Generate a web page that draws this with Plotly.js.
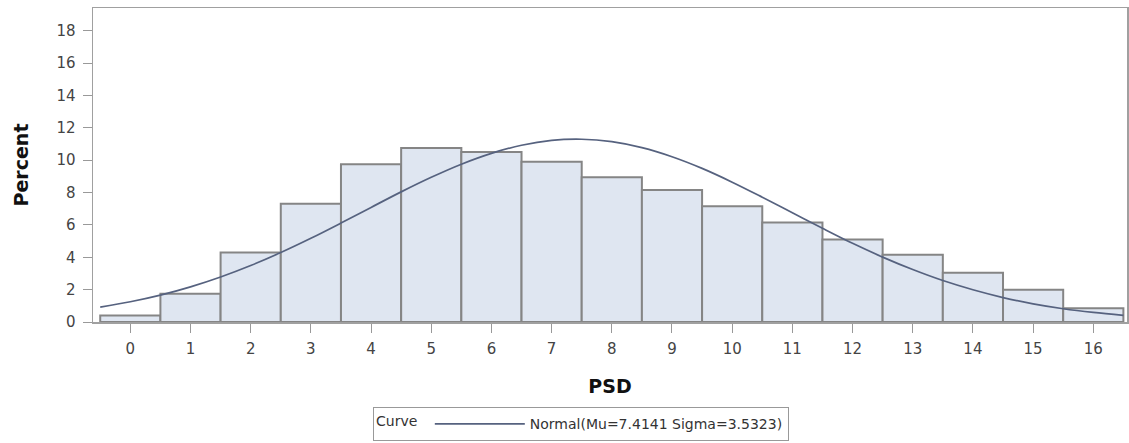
<!DOCTYPE html>
<html>
<head>
<meta charset="utf-8">
<script src="https://cdn.plot.ly/plotly-3.0.1.min.js"></script>
<style>html,body{margin:0;padding:0;background:#fff;}#chart{width:1129px;height:443px;}</style>
</head>
<body>
<div id="chart"></div>
<script>
// Histogram bins (PSD midpoints) and percent heights
const psdBins = [0,1,2,3,4,5,6,7,8,9,10,11,12,13,14,15,16];
const percentValues = [0.4,1.75,4.3,7.3,9.75,10.75,10.5,9.9,8.95,8.15,7.15,6.15,5.1,4.15,3.05,2.0,0.85];

// Fitted normal curve (Mu=7.4141, Sigma=3.5323)
const curveX = [-0.5,0,0.5,1,1.5,2,2.5,3,3.5,4,4.5,5,5.5,6,6.5,7,7.5,8,8.5,9,9.5,10,10.5,11,11.5,12,12.5,13,13.5,14,14.5,15,15.5,16,16.5];
const curveY = [0.92,1.25,1.66,2.17,2.78,3.49,4.29,5.17,6.11,7.08,8.04,8.94,9.75,10.42,10.92,11.22,11.29,11.14,10.77,10.21,9.49,8.64,7.71,6.75,5.79,4.86,4.01,3.24,2.56,1.99,1.51,1.12,0.82,0.59,0.41];

const xTickVals = [0,1,2,3,4,5,6,7,8,9,10,11,12,13,14,15,16];
const yTickVals = [0,2,4,6,8,10,12,14,16,18];
const legendLabel = "Normal(Mu=7.4141 Sigma=3.5323)";

const fontFam = "'DejaVu Sans', Verdana, sans-serif";

const traces = [
  {
    type: 'bar', x: psdBins, y: percentValues, width: 1,
    marker: {color: '#dfe6f1', line: {color: '#858585', width: 2}},
    showlegend: false, hoverinfo: 'x+y'
  },
  {
    type: 'scatter', mode: 'lines', x: curveX, y: curveY,
    line: {color: '#56627f', width: 1.7, shape: 'spline'},
    name: legendLabel, showlegend: true
  }
];

const layout = {
  width: 1129, height: 443,
  margin: {l: 93, r: 2, t: 8, b: 121},
  paper_bgcolor: '#fff', plot_bgcolor: '#fff',
  font: {family: fontFam, size: 15, color: '#444'},
  bargap: 0,
  xaxis: {
    range: [-0.62, 16.56], tickvals: xTickVals, ticktext: xTickVals.map(String),
    ticks: 'outside', ticklen: 9, tickcolor: '#999', tickwidth: 1,
    ticklabelstandoff: 3,
    showline: true, linecolor: '#a0a0a0', linewidth: 1.5, mirror: true,
    showgrid: false, zeroline: false, automargin: false,
    tickfont: {size: 15, color: '#444'},
    title: {text: 'PSD', font: {size: 19, color: '#111', family: fontFam, weight: 'bold'}, standoff: 23}
  },
  yaxis: {
    range: [0, 19.4], tickvals: yTickVals, ticktext: yTickVals.map(String),
    ticks: 'outside', ticklen: 9, tickcolor: '#999', tickwidth: 1,
    ticklabelstandoff: 4,
    showline: true, linecolor: '#a0a0a0', linewidth: 1.5, mirror: true,
    showgrid: false, zeroline: false, automargin: false,
    tickfont: {size: 15, color: '#444'},
    title: {text: 'Percent', font: {size: 19, color: '#111', family: fontFam, weight: 'bold'}, standoff: 23}
  },
  showlegend: true,
  legend: {
    orientation: 'h', x: 0.472, xanchor: 'center', xref: 'paper',
    y: 0.004, yanchor: 'bottom', yref: 'container',
    bordercolor: '#999', borderwidth: 1, bgcolor: '#fff',
    font: {size: 14, color: '#333'}, valign: 'middle',
    title: {text: 'Curve ', font: {size: 14, color: '#333'}, side: 'left'},
    itemwidth: 90
  }
};

Plotly.newPlot('chart', traces, layout, {staticPlot: true, displayModeBar: false});
</script>
</body>
</html>
